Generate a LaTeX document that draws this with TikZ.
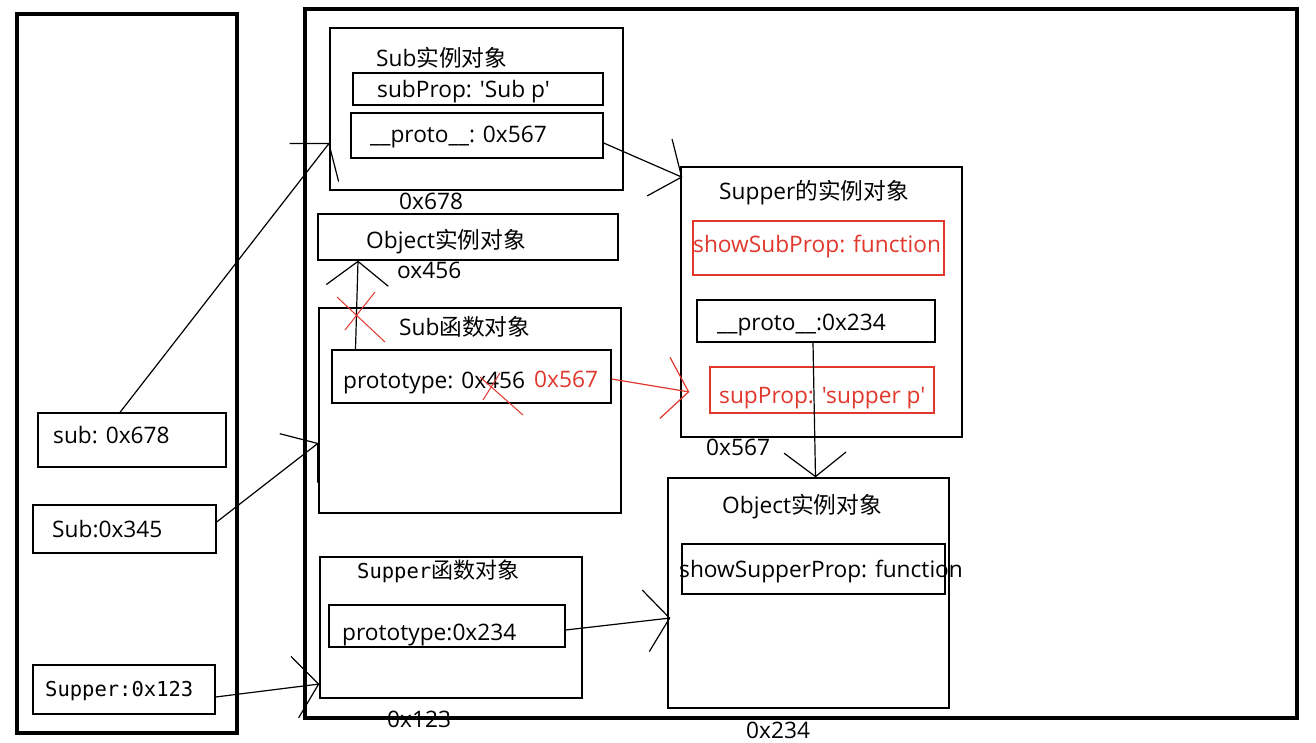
\documentclass[tikz,border=0pt]{standalone}
\usepackage{fontspec}
\setmainfont{Open Sans}[Ligatures=TeXOff]
\setmonofont{DejaVu Sans Mono}
\newfontfamily\cjk{Noto Sans CJK SC}
\usetikzlibrary{arrows.meta}
\definecolor{pen}{RGB}{225,55,45}

\begin{document}
\begin{tikzpicture}[x=1pt,y=-1pt,
  bx/.style={draw,line width=1.3pt,inner sep=0pt},
  frame/.style={draw,line width=4pt,inner sep=0pt},
  txt/.style={anchor=base west,inner sep=0pt,font=\fontsize{22.7}{26}\selectfont},
  mono/.style={anchor=base west,inner sep=0pt,font=\fontsize{20.5}{24}\selectfont\ttfamily},
  ar/.style={-{Straight Barb[length=24pt,width=62pt]},line width=1.2pt}
]
\useasboundingbox (0,0) rectangle (1316,743);
\fill[white] (0,0) rectangle (1316,743);

\node[frame,minimum width=220pt,minimum height=719pt] (stack) at (127,373.5) {};
\node[frame,minimum width=992pt,minimum height=709pt] (heap) at (801,363.5) {};

\node[bx,minimum width=188pt,minimum height=54pt] (stsub) at (132,440) {};
\node[bx,minimum width=183pt,minimum height=48pt] (stSub) at (124.5,529) {};
\node[bx,minimum width=182pt,minimum height=49pt] (stSupper) at (124,689.5) {};
\node[txt] (stsubtxt) at (53,443) {sub: 0x678};
\node[txt] (stSubtxt) at (52,537) {Sub:0x345};
\node[mono] (stSuppertxt) at (45,696) {Supper:0x123};

\node[bx,minimum width=293pt,minimum height=162pt] (subinst) at (476.5,109) {};
\node[bx,minimum width=250pt,minimum height=32pt] (subprop) at (478,89) {};
\node[bx,minimum width=252pt,minimum height=45pt] (subproto) at (477,135.5) {};
\node[txt] (subinsttxt) at (376,67) {Sub{\cjk 实例对象}};
\node[txt] (subproptxt) at (377,98) {subProp: 'Sub p'};
\node[txt] (subprototxt) at (370,143) {\_\_proto\_\_: 0x567};
\node[txt] (subinstaddr) at (399,210) {0x678};

\node[bx,minimum width=300pt,minimum height=46pt] (objsmall) at (468,237) {};
\node[txt] (objsmalltxt) at (366,248) {Object{\cjk 实例对象}};
\node[txt] (objsmalladdr) at (397,278) {ox456};

\node[bx,minimum width=302pt,minimum height=205pt] (subfn) at (470,410.5) {};
\node[bx,minimum width=279pt,minimum height=53pt] (subpt) at (471.5,376.5) {};
\node[txt] (subfntxt) at (399,335) {Sub{\cjk 函数对象}};
\node[txt] (subpttxt) at (343,388) {prototype: 0x456};
\node[txt,text=pen] (subptnew) at (534,387) {0x567};

\node[bx,minimum width=281pt,minimum height=270pt] (supinst) at (821.5,302) {};
\node[bx,draw=pen,minimum width=251pt,minimum height=54pt] (showsub) at (818.5,248) {};
\node[bx,minimum width=238pt,minimum height=42pt] (supproto) at (816,321) {};
\node[bx,draw=pen,minimum width=224pt,minimum height=46pt] (supprop) at (822,390) {};
\node[txt] (supinsttxt) at (719,200) {Supper{\cjk 的实例对象}};
\node[txt,text=pen] (showsubtxt) at (693,252) {showSubProp: function};
\node[txt] (supprototxt) at (717,330) {\_\_proto\_\_:0x234};
\node[txt,text=pen] (supproptxt) at (719,403) {supProp: 'supper p'};
\node[txt] (supinstaddr) at (706,455) {0x567};

\node[bx,minimum width=281pt,minimum height=230pt] (objbig) at (808.5,593) {};
\node[bx,minimum width=263pt,minimum height=50pt] (showsupper) at (813.5,569) {};
\node[txt] (objbigtxt) at (722,513) {Object{\cjk 实例对象}};
\node[txt] (showsuppertxt) at (679,577) {showSupperProp: function};
\node[txt] (objbigaddr) at (746,738) {0x234};

\node[bx,minimum width=262pt,minimum height=141pt] (supfn) at (451,627.5) {};
\node[bx,minimum width=236pt,minimum height=42pt] (suppt) at (447,626) {};
\node[mono] (supfntxt) at (357,578) {Supper{\cjk\fontsize{22}{26}\selectfont 函数对象}};
\node[txt] (suppttxt) at (342,640) {prototype:0x234};
\node[txt] (supfnaddr) at (387,727) {0x123};

\draw[ar] ([xshift=-12pt]stsub.north) -- ([yshift=-34pt]subinst.west);
\draw[ar] ([yshift=7pt]stSub.east) -- ([yshift=-32.5pt]subfn.west);
\draw[ar] ([yshift=-7.5pt]stSupper.east) -- ([yshift=-56.5pt]supfn.west);
\draw[ar] ([yshift=-7.5pt]subproto.east) -- ([xshift=2pt,yshift=-11pt]supinst.north west);
\draw[ar] ([xshift=-116pt]subpt.north) -- ([xshift=-110pt]objsmall.south);
\draw[ar,draw=pen] ([yshift=-2.5pt]subpt.east) -- ([xshift=-20pt,yshift=-2pt]supprop.west);
\draw[ar] ([xshift=-3pt]supproto.south) -- ([xshift=7pt]objbig.north);
\draw[ar] ([yshift=-4pt]suppt.east) -- ([xshift=3pt,yshift=-25pt]objbig.west);

\draw[pen,line width=1pt] (337,297) -- (385,342) (375,292) -- (345,330);
\draw[pen,line width=1pt] (480,377) -- (523,415) (500,373) -- (483,400);
\end{tikzpicture}
\end{document}
